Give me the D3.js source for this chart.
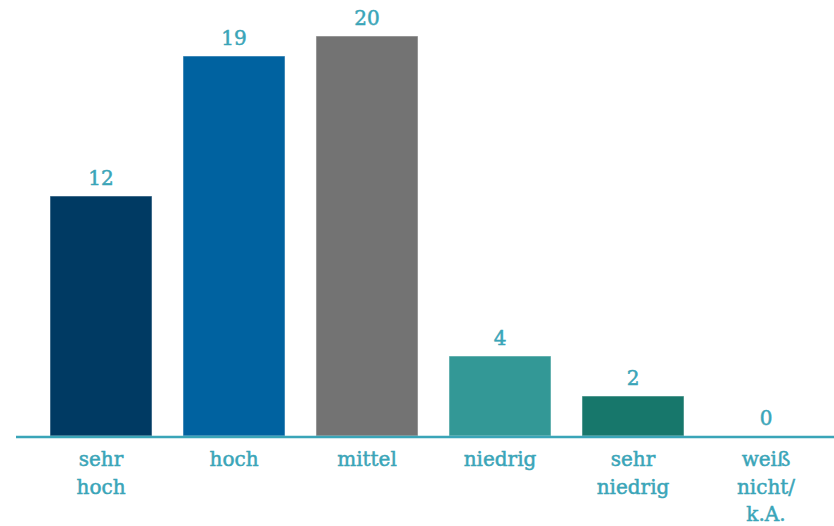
<!DOCTYPE html>
<html>
<head>
<meta charset="utf-8">
<script src="https://cdn.jsdelivr.net/npm/d3@7"></script>
<style>
  html, body { margin: 0; padding: 0; background: #fff; }
  svg { display: block; }
</style>
</head>
<body>
<svg id="chart" width="834" height="526"></svg>
<script>
// Categories (multi-line labels), values and bar colours
const categories = ["sehr hoch", "hoch", "mittel", "niedrig", "sehr niedrig", "weiß nicht/ k.A."];
const labelLines = [["sehr", "hoch"], ["hoch"], ["mittel"], ["niedrig"], ["sehr", "niedrig"], ["weiß", "nicht/", "k.A."]];
const values = [12, 19, 20, 4, 2, 0];
const colors = ["#003a63", "#0062a0", "#737373", "#339896", "#17776b", "#17776b"];

const accent = "#3aa5b8";
const font = "'DejaVu Serif', serif";

const svg = d3.select("#chart");

const x = d3.scaleBand()
  .domain(categories)
  .range([50, 817])
  .paddingInner(0.233)
  .paddingOuter(0);

const y = d3.scaleLinear()
  .domain([0, 20])
  .range([436, 36]);

// Bars
svg.append("g")
  .selectAll("rect")
  .data(values)
  .join("rect")
  .attr("x", (d, i) => x(categories[i]))
  .attr("y", d => y(d))
  .attr("width", x.bandwidth())
  .attr("height", d => y(0) - y(d))
  .attr("fill", (d, i) => colors[i])
  .attr("stroke", "#ffffff")
  .attr("stroke-opacity", 0.5)
  .attr("stroke-width", 1);

// Value labels above bars
svg.append("g")
  .selectAll("text")
  .data(values)
  .join("text")
  .attr("x", (d, i) => x(categories[i]) + x.bandwidth() / 2)
  .attr("y", d => y(d) - 11)
  .attr("text-anchor", "middle")
  .attr("font-family", font)
  .attr("font-size", 20)
  .attr("fill", accent)
  .attr("stroke", accent)
  .attr("stroke-width", 0.5)
  .text(d => d);

// Baseline axis
const axis = d3.axisBottom(x).tickSize(0).tickFormat("");
const axisG = svg.append("g")
  .attr("transform", `translate(0,${y(0) + 1})`)
  .call(axis);
axisG.select(".domain").remove();
axisG.append("line")
  .attr("x1", 16).attr("x2", 834)
  .attr("stroke", accent)
  .attr("stroke-width", 2.5);

// Category labels, one tspan per line
const cat = svg.append("g")
  .selectAll("text")
  .data(categories)
  .join("text")
  .attr("text-anchor", "middle")
  .attr("font-family", font)
  .attr("font-size", 20)
  .attr("fill", accent)
  .attr("stroke", accent)
  .attr("stroke-width", 0.5)
  .attr("transform", d => `translate(${x(d) + x.bandwidth() / 2},466)`);

cat.selectAll("tspan")
  .data((d, i) => labelLines[i])
  .join("tspan")
  .attr("x", 0)
  .attr("y", (d, j) => j * 27.5)
  .text(d => d);
</script>
</body>
</html>
